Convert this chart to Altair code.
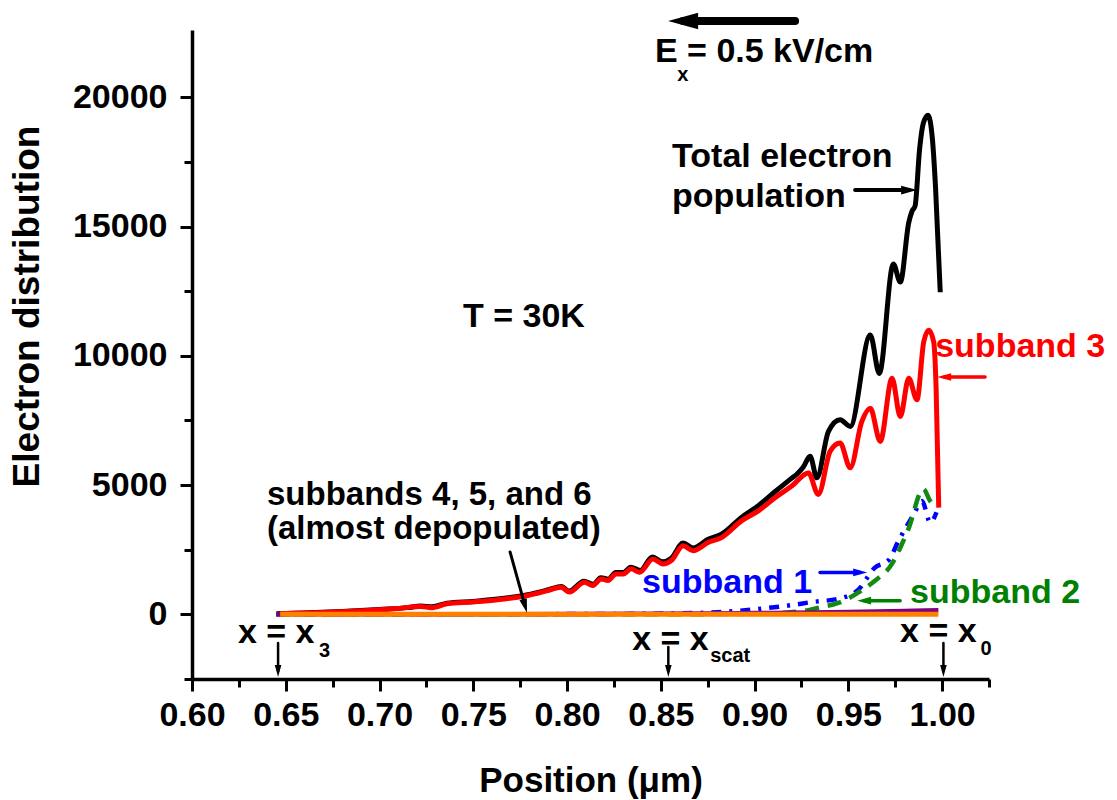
import altair as alt
import pandas as pd

FONT = "Liberation Sans"

# ---------------- curve data (position in um, electron count) ----------------
total_x = [0.645, 0.66, 0.68, 0.70, 0.715, 0.722, 0.728, 0.736, 0.75, 0.763, 0.779, 0.79, 0.797,
           0.801, 0.809, 0.814, 0.818, 0.822, 0.826, 0.83, 0.834, 0.839, 0.8455, 0.851, 0.8556,
           0.8619, 0.8672, 0.8752, 0.8824, 0.893, 0.902, 0.911, 0.9195, 0.9225, 0.926, 0.9296,
           0.9332, 0.9394, 0.9456, 0.951, 0.9617, 0.9665, 0.974, 0.9777, 0.9822, 0.984, 0.9856,
           0.988, 0.990, 0.9925, 0.9948, 0.9965, 0.999]
total_y = [20, 55, 110, 190, 260, 320, 290, 430, 500, 590, 760, 950, 1080,
           900, 1280, 1160, 1420, 1360, 1620, 1620, 1820, 1700, 2220, 2030, 2170,
           2760, 2570, 2900, 3100, 3750, 4200, 4750, 5250, 5420, 5700, 6115,
           5280, 7080, 7530, 7270, 10800, 9320, 13550, 12850, 15150, 15600, 15800,
           18000, 19000, 19300, 18400, 16500, 12460]

sub3_x = [0.647, 0.67, 0.6934, 0.71, 0.7219, 0.728, 0.736, 0.75, 0.763, 0.779, 0.7897, 0.7968,
          0.8012, 0.8093, 0.8137, 0.8182, 0.8218, 0.8262, 0.83, 0.8342, 0.8387, 0.8458, 0.8512,
          0.8556, 0.8619, 0.8672, 0.8752, 0.8824, 0.893, 0.902, 0.9109, 0.9198, 0.9287, 0.934,
          0.9403, 0.9456, 0.951, 0.9572, 0.9617, 0.967, 0.9733, 0.9777, 0.9822, 0.9866, 0.9902,
          0.9929, 0.9955, 0.9968, 0.9982]
sub3_y = [25, 70, 150, 230, 300, 260, 410, 480, 565, 730, 920, 1050,
          860, 1240, 1115, 1370, 1310, 1565, 1565, 1760, 1630, 2140, 1950,
          2080, 2650, 2460, 2780, 2970, 3615, 4000, 4510, 4960, 5470, 4640,
          6310, 6630, 5670, 7460, 7970, 6690, 9130, 7650, 9130, 8300, 10540,
          10990, 10540, 8740, 4130]

sub1_x = [0.645, 0.70, 0.75, 0.80, 0.85, 0.88, 0.905, 0.919, 0.930, 0.945, 0.9554, 0.964,
          0.9715, 0.9768, 0.9849, 0.9893, 0.9937, 0.9970]
sub1_y = [0, 0, 5, 10, 30, 80, 230, 350, 470, 610, 960, 1800,
          2100, 2850, 3870, 4380, 3550, 3950]

sub2_x = [0.645, 0.75, 0.85, 0.90, 0.925, 0.935, 0.945, 0.957, 0.965, 0.972, 0.982, 0.990,
          0.9935, 0.997]
sub2_y = [0, 0, 5, 20, 120, 270, 450, 920, 1350, 1820, 3300, 4850,
          4400, 4130]

sub45_x = [0.645, 0.75, 0.85, 0.90, 0.95, 0.98, 0.998]
sub45_y = [0, 5, 20, 50, 90, 130, 160]

sub6_x = [0.647, 0.75, 0.85, 0.95, 0.998]
sub6_y = [0, 0, 0, 0, 0]

# ---------------- axis ticks ----------------
x_major = [0.60, 0.65, 0.70, 0.75, 0.80, 0.85, 0.90, 0.95, 1.00]
x_minor = [0.625, 0.675, 0.725, 0.775, 0.825, 0.875, 0.925, 0.975, 1.025]
y_major = [0, 5000, 10000, 15000, 20000]
y_minor = [-2500, 2500, 7500, 12500, 17500]
X_DOMAIN = [0.60, 1.025]
Y_DOMAIN = [-2500, 22600]

# ---------------- annotations ----------------
ann_text = ["E", "x", "= 0.5 kV/cm", "Total electron", "population", "T = 30K",
            "subband 3", "subbands 4, 5, and 6", "(almost depopulated)", "subband 1",
            "subband 2", "x = x", "3", "x = x", "scat", "x = x", "0"]
ann_x = [0.8469, 0.8587, 0.864, 0.856, 0.856, 0.7445,
         0.9963, 0.640, 0.640, 0.840,
         0.9829, 0.6245, 0.6677, 0.8347, 0.8763, 0.9776, 1.0205]
ann_y = [21361, 20627, 21361, 17301, 15754, 11114,
         9954, 4230, 2920, 828,
         441, -1106, -1647, -1377, -1841, -1067, -1570]
ann_size = [34, 20, 34, 34, 34, 34,
            34, 33, 33, 34,
            34, 34, 20, 34, 20, 34, 20]
ann_color = ["black", "black", "black", "black", "black", "black",
             "#ff0000", "black", "black", "#0000ff",
             "#008000", "black", "black", "black", "black", "black", "black"]

# arrow shafts
arr_x = [0.8619, 0.9536, 1.0229, 0.9349, 0.9776, 0.7696, 0.6459, 0.8540, 1.0007]
arr_x2 = [0.9216, 0.9824, 1.0011, 0.9563, 0.9584, 0.7776, 0.6459, 0.8540, 1.0007]
arr_y = [22947, 16411, 9180, 1620, 530, 2413, -1106, -1261, -1106]
arr_y2 = [22947, 16411, 9180, 1620, 530, 325, -2189, -2189, -2189]
arr_w = [8, 4, 3.5, 3.5, 3.5, 3, 2.5, 2.5, 2.5]
arr_color = ["black", "black", "#ff0000", "#0000ff", "#008000", "black", "black", "black", "black"]
# arrow heads (centre of the head, direction angle, head size)
head_x = [0.8619, 0.9824, 1.0011, 0.9563, 0.9584, 0.7776, 0.6459, 0.8540, 1.0007]
head_y = [22947, 16411, 9180, 1620, 530, 325, -2189, -2189, -2189]
head_angle = [180, 0, 180, 0, 180, 74, 90, 90, 90]
head_size = [900, 256, 196, 196, 196, 196, 144, 144, 144]

# ---------------- build ----------------
xs = alt.Scale(domain=X_DOMAIN, nice=False, zero=False)
ys = alt.Scale(domain=Y_DOMAIN, nice=False, zero=False)


def line_layer(xv, yv, color, width, dash=None):
    df = pd.DataFrame({"x": xv, "y": yv})
    kw = dict(interpolate="monotone", color=color, strokeWidth=width, clip=False)
    if dash:
        kw["strokeDash"] = dash
    return alt.Chart(df).mark_line(**kw).encode(
        x=alt.X("x:Q", scale=xs, axis=None),
        y=alt.Y("y:Q", scale=ys, axis=None),
    )


common_axis = dict(
    domainColor="black", domainWidth=3.5, tickColor="black", tickWidth=3,
    grid=False, labelFont=FONT, labelFontWeight="bold", labelColor="black",
    titleFont=FONT, titleFontWeight="bold", titleColor="black",
    labelOverlap=False, labelFlush=False,
)

# main axes attached to the total curve
total_df = pd.DataFrame({"x": total_x, "y": total_y})
total_layer = alt.Chart(total_df).mark_line(
    interpolate="monotone", color="black", strokeWidth=5
).encode(
    x=alt.X("x:Q", scale=xs, axis=alt.Axis(
        values=x_major, format=".2f", tickSize=12, labelFontSize=34,
        labelBaseline="alphabetic", labelPadding=34, title="Position (\u03bcm)",
        titleFontSize=35, titleY=112, titleBaseline="alphabetic", orient="bottom",
        **common_axis)),
    y=alt.Y("y:Q", scale=ys, axis=alt.Axis(
        values=y_major, format="d", tickSize=12, labelFontSize=34, labelPadding=13,
        title="Electron distribution", titleFontSize=37, titleAngle=270,
        titleX=-165, titleY=276, titleAlign="center", titleBaseline="middle",
        orient="left", **common_axis)),
)

# minor ticks axis layer (invisible marks)
minor_df = pd.DataFrame({"x": sub6_x, "y": sub6_y})
minor_layer = alt.Chart(minor_df).mark_point(opacity=0).encode(
    x=alt.X("x:Q", scale=xs, axis=alt.Axis(
        values=x_minor, tickSize=8, tickWidth=3, tickColor="black", labels=False,
        domain=False, grid=False, title=None, orient="bottom")),
    y=alt.Y("y:Q", scale=ys, axis=alt.Axis(
        values=y_minor, tickSize=8, tickWidth=3, tickColor="black", labels=False,
        domain=False, grid=False, title=None, orient="left")),
)

red_layer = line_layer(sub3_x, sub3_y, "#ff0000", 5)
blue_layer = line_layer(sub1_x, sub1_y, "#0000ff", 4.5, [10, 8, 3, 8])
green_layer = line_layer(sub2_x, sub2_y, "#138a13", 4.5, [14, 9])
purple_layer = line_layer(sub45_x, sub45_y, "#800080", 4.5)
orange_layer = line_layer(sub6_x, sub6_y, "#ff8000", 5)

ann_df = pd.DataFrame({"x": ann_x, "y": ann_y, "t": ann_text, "s": ann_size, "c": ann_color})
text_layer = alt.Chart(ann_df).mark_text(
    align="left", baseline="alphabetic", font=FONT, fontWeight="bold"
).encode(
    x=alt.X("x:Q", scale=xs, axis=None),
    y=alt.Y("y:Q", scale=ys, axis=None),
    text="t:N",
    size=alt.Size("s:Q", scale=None),
    color=alt.Color("c:N", scale=None),
)

arr_df = pd.DataFrame({"x": arr_x, "x2": arr_x2, "y": arr_y, "y2": arr_y2,
                       "w": arr_w, "c": arr_color})
shaft_layer = alt.Chart(arr_df).mark_rule(strokeCap="round").encode(
    x=alt.X("x:Q", scale=xs, axis=None),
    x2="x2:Q",
    y=alt.Y("y:Q", scale=ys, axis=None),
    y2="y2:Q",
    strokeWidth=alt.StrokeWidth("w:Q", scale=None),
    color=alt.Color("c:N", scale=None),
)

head_df = pd.DataFrame({"x": head_x, "y": head_y, "a": head_angle, "s": head_size,
                        "c": arr_color})
head_layer = alt.Chart(head_df).mark_point(
    shape="M1,0 L-1,-0.55 L-1,0.55 Z", filled=True, opacity=1, strokeWidth=0
).encode(
    x=alt.X("x:Q", scale=xs, axis=None),
    y=alt.Y("y:Q", scale=ys, axis=None),
    angle=alt.Angle("a:Q", scale=None),
    size=alt.Size("s:Q", scale=None),
    color=alt.Color("c:N", scale=None),
)

chart = alt.layer(
    minor_layer, total_layer, red_layer, blue_layer, green_layer, purple_layer,
    orange_layer, shaft_layer, head_layer, text_layer
).resolve_axis(
    x="independent", y="independent"
).properties(
    width=797, height=649,
    padding={"left": 192, "top": 30, "right": 128, "bottom": 121},
    autosize=alt.AutoSizeParams(type="none"),
    background="white",
).configure_view(stroke=None)

chart.save("out.html", embed_options={"renderer": "svg", "actions": False})
